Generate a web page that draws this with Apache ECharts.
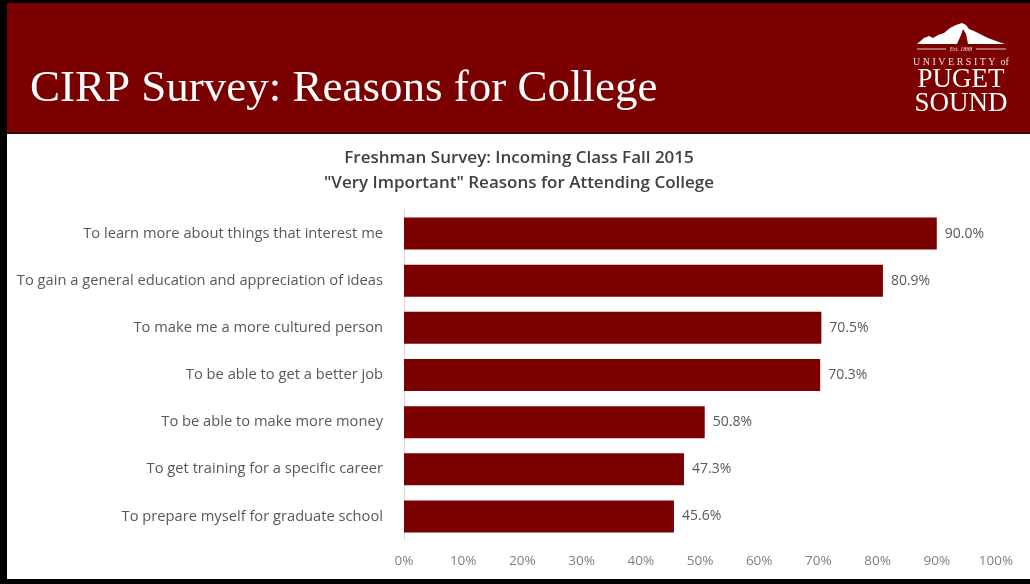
<!DOCTYPE html>
<html>
<head>
<meta charset="utf-8">
<script src="https://cdn.jsdelivr.net/npm/echarts@6/dist/echarts.min.js"></script>
<style>
  html, body { margin: 0; padding: 0; background: #ffffff; }
  #chart { width: 1030px; height: 584px; }
</style>
</head>
<body>
<div id="chart"></div>
<script>
// Survey reasons (top to bottom) and share answering "Very Important"
const reasons = [
  'To learn more about things that interest me',
  'To gain a general education and appreciation of ideas',
  'To make me a more cultured person',
  'To be able to get a better job',
  'To be able to make more money',
  'To get training for a specific career',
  'To prepare myself for graduate school'
];
const veryImportantPct = [90.0, 80.9, 70.5, 70.3, 50.8, 47.3, 45.6];
const pctTicks = [0, 10, 20, 30, 40, 50, 60, 70, 80, 90, 100];

const headerTitle = 'CIRP Survey: Reasons for College';
const chartTitle = 'Freshman Survey: Incoming Class Fall 2015\n"Very Important" Reasons for Attending College';

const maroon = '#7b0000';
const serif = '"Liberation Serif", "DejaVu Serif", serif';
const chart = echarts.init(document.getElementById('chart'), null, { renderer: 'canvas' });

chart.setOption({
  backgroundColor: '#ffffff',
  animation: false,
  title: {
    text: chartTitle,
    left: 514,
    textAlign: 'center',
    top: 141,
    textStyle: {
      fontFamily: 'Open Sans',
      fontSize: 17,
      fontWeight: 600,
      color: '#404040',
      lineHeight: 25
    }
  },
  grid: { left: 404, right: 34, top: 210, bottom: 44, containLabel: false },
  xAxis: {
    type: 'value',
    min: pctTicks[0],
    max: pctTicks[pctTicks.length - 1],
    interval: pctTicks[1] - pctTicks[0],
    axisLine: { show: false },
    axisTick: { show: false },
    splitLine: { show: false },
    axisLabel: {
      formatter: '{value}%',
      color: '#7f7f7f',
      fontFamily: 'Open Sans',
      fontSize: 13.5,
      margin: 14
    }
  },
  yAxis: {
    type: 'category',
    inverse: true,
    data: reasons,
    axisLine: { show: true, lineStyle: { color: '#d9d9d9', width: 1 } },
    axisTick: { show: false },
    axisLabel: {
      color: '#595959',
      fontFamily: 'Open Sans',
      fontSize: 14.7,
      margin: 21
    }
  },
  series: [{
    type: 'bar',
    data: veryImportantPct,
    barWidth: 32,
    itemStyle: { color: maroon },
    label: {
      show: true,
      position: 'right',
      distance: 8,
      formatter: p => p.value.toFixed(1) + '%',
      color: '#595959',
      fontFamily: 'Open Sans',
      fontSize: 14
    }
  }],
  graphic: [
    // header band
    { type: 'rect', shape: { x: 0, y: 0, width: 1030, height: 134 }, style: { fill: maroon }, silent: true },
    { type: 'rect', shape: { x: 0, y: 132, width: 1030, height: 2 }, style: { fill: '#3a0000' }, silent: true },
    // frame
    { type: 'rect', shape: { x: 0, y: 0, width: 1030, height: 3 }, style: { fill: '#000000' }, silent: true },
    { type: 'rect', shape: { x: 0, y: 0, width: 7, height: 584 }, style: { fill: '#000000' }, silent: true },
    { type: 'rect', shape: { x: 0, y: 579, width: 1030, height: 5 }, style: { fill: '#000000' }, silent: true },
    // header title
    {
      type: 'text', silent: true,
      style: { x: 30, y: 67, text: headerTitle, fill: '#ffffff', font: '45px ' + serif, verticalAlign: 'top' }
    },
    // logo: mountain
    {
      type: 'polygon', silent: true,
      shape: { points: [[917, 44], [924, 38], [929, 36], [933, 38], [938, 35], [944, 33], [950, 28], [956, 25], [962, 23], [966, 25], [969, 29], [974, 31], [980, 34], [988, 38], [996, 41], [1005, 44]] },
      style: { fill: '#ffffff' }
    },
    {
      type: 'polygon', silent: true,
      shape: { points: [[957, 44], [961, 35], [963, 29], [966, 34], [968, 44]] },
      style: { fill: maroon }
    },
    { type: 'line', silent: true, shape: { x1: 917, y1: 49, x2: 946, y2: 49 }, style: { stroke: '#e8c8c8', lineWidth: 1 } },
    { type: 'line', silent: true, shape: { x1: 976, y1: 49, x2: 1006, y2: 49 }, style: { stroke: '#e8c8c8', lineWidth: 1 } },
    {
      type: 'text', silent: true,
      style: { x: 961, y: 49, text: 'Est. 1888', fill: '#f0dcdc', font: 'italic 6px ' + serif, align: 'center', verticalAlign: 'middle' }
    },
    {
      type: 'text', silent: true,
      style: { x: 961, y: 62, text: 'U N I V E R S I T Y  of', fill: '#f0e0e0', font: '10px ' + serif, align: 'center', verticalAlign: 'middle' }
    },
    {
      type: 'text', silent: true,
      style: { x: 961, y: 66, text: 'PUGET', fill: '#ffffff', font: '27px ' + serif, align: 'center', verticalAlign: 'top' }
    },
    {
      type: 'text', silent: true,
      style: { x: 961, y: 90, text: 'SOUND', fill: '#ffffff', font: '27px ' + serif, align: 'center', verticalAlign: 'top' }
    }
  ]
});
</script>
</body>
</html>
